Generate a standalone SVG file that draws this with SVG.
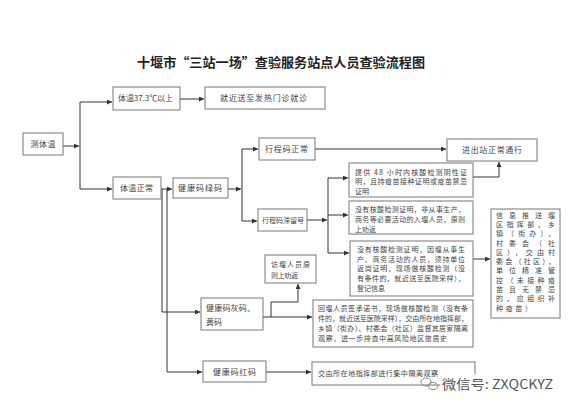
<svg xmlns="http://www.w3.org/2000/svg" width="572" height="412" viewBox="0 0 572 412">
<defs>
<marker id="ah" markerWidth="5" markerHeight="5" refX="5" refY="2.5" orient="auto" markerUnits="userSpaceOnUse"><path d="M0,0 L5,2.5 L0,5 z" fill="#333"/></marker>
<style>
.b{fill:#fff;stroke:#777;stroke-width:1}
.t{font-family:"Noto Sans CJK SC","Liberation Sans",sans-serif;font-size:8px;fill:#444}
.s{font-family:"Noto Sans CJK SC","Liberation Sans",sans-serif;font-size:7px;fill:#444}
.c{fill:none;stroke:#333;stroke-width:1}
.a{marker-end:url(#ah)}
</style>
</defs>
<rect width="572" height="412" fill="#fff"/>
<text x="281" y="67" text-anchor="middle" textLength="288" lengthAdjust="spacingAndGlyphs" style="font-family:'Noto Sans CJK SC',sans-serif;font-size:13px;font-weight:bold;fill:#222">十堰市“三站一场”查验服务站点人员查验流程图</text>

<g id="connectors">
<path class="c a" d="M63,146 H79"/>
<path class="c" d="M80,102 V189"/>
<path class="c a" d="M80,102 H112"/>
<path class="c a" d="M80,189 H112"/>
<path class="c a" d="M180,99 H204"/>
<path class="c a" d="M161,189 H172"/>
<path class="c a" d="M162,189 V312 H200"/>
<path class="c a" d="M167,189 V372 H202"/>
<path class="c a" d="M228,189 H241"/>
<path class="c" d="M242,149 V221"/>
<path class="c a" d="M242,149 H258"/>
<path class="c a" d="M242,221 H257"/>
<path class="c a" d="M315,149 H446"/>
<path class="c a" d="M307,220 H327"/>
<path class="c" d="M328,178 V253"/>
<path class="c a" d="M328,178 H348"/>
<path class="c a" d="M328,215 H348"/>
<path class="c a" d="M328,253 H349"/>
<path class="c a" d="M473,177 H499 V162"/>
<path class="c a" d="M473,259 H490"/>
<path class="c a" d="M263,317 H312"/>
<path class="c a" d="M271,317 V302 H298 V284"/>
<path class="c a" d="M266,372 H311"/>
</g>

<g id="n-measure"><rect class="b" x="23" y="133" width="40" height="22"/><text class="t" x="43" y="147" text-anchor="middle" textLength="25" lengthAdjust="spacing">测体温</text></g>
<g id="n-high"><rect class="b" x="113" y="87" width="67" height="23"/><text class="t" x="118" y="101" textLength="55" lengthAdjust="spacing">体温37.3℃以上</text></g>
<g id="n-fever"><rect class="b" x="205" y="87" width="120" height="22"/><text class="t" x="220" y="101" textLength="87" lengthAdjust="spacing">就近送至发热门诊就诊</text></g>
<g id="n-normal"><rect class="b" x="113" y="177" width="48" height="22"/><text class="t" x="120" y="191" textLength="33" lengthAdjust="spacing">体温正常</text></g>
<g id="n-green"><rect class="b" x="173" y="178" width="55" height="20"/><text class="t" x="178" y="191" textLength="44" lengthAdjust="spacing">健康码绿码</text></g>
<g id="n-trip-ok"><rect class="b" x="259" y="138" width="56" height="22"/><text class="t" x="265" y="152" textLength="43" lengthAdjust="spacing">行程码正常</text></g>
<g id="n-pass"><rect class="b" x="447" y="139" width="90" height="22"/><text class="t" x="462" y="153" textLength="60" lengthAdjust="spacing">进出站正常通行</text></g>
<g id="n-trip-star"><rect class="b" x="258" y="209" width="49" height="22"/><text class="s" x="262" y="223" textLength="42" lengthAdjust="spacing">行程码滞留号</text></g>
<g id="n-cert"><rect class="b" x="349" y="163" width="124" height="34"/>
<text class="s" x="355" y="175" textLength="112" lengthAdjust="spacing">提供 48 小时内核酸检测阴性证</text>
<text class="s" x="355" y="184" textLength="112" lengthAdjust="spacing">明，且持疫苗接种证明或疫苗禁忌</text>
<text class="s" x="355" y="194">证明</text></g>
<g id="n-nocert1"><rect class="b" x="349" y="201" width="124" height="33"/>
<text class="s" x="355" y="212" textLength="110" lengthAdjust="spacing">没有核酸检测证明，非从事生产，</text>
<text class="s" x="355" y="222" textLength="110" lengthAdjust="spacing">商务等必要活动的入堰人员，原则</text>
<text class="s" x="355" y="232">上劝返</text></g>
<g id="n-nocert2"><rect class="b" x="350" y="241" width="123" height="55"/>
<text class="s" x="357" y="252" textLength="108" lengthAdjust="spacing">没有核酸检测证明，因堰从事生</text>
<text class="s" x="357" y="262" textLength="108" lengthAdjust="spacing">产、商务活动的人员，须持单位</text>
<text class="s" x="357" y="271" textLength="108" lengthAdjust="spacing">返岗证明，现场做核酸检测（没</text>
<text class="s" x="357" y="281" textLength="108" lengthAdjust="spacing">有条件的，就近送至医院采样），</text>
<text class="s" x="357" y="291">登记信息</text></g>
<g id="n-push"><rect class="b" x="491" y="209" width="69" height="109"/>
<text class="s" x="496" y="218" textLength="59" lengthAdjust="spacing">信息推送堰</text>
<text class="s" x="496" y="227" textLength="59" lengthAdjust="spacing">区指挥部，乡</text>
<text class="s" x="496" y="236" textLength="59" lengthAdjust="spacing">镇（街办），</text>
<text class="s" x="496" y="246" textLength="59" lengthAdjust="spacing">村委会（社</text>
<text class="s" x="496" y="255" textLength="59" lengthAdjust="spacing">区），交由村</text>
<text class="s" x="496" y="264" textLength="59" lengthAdjust="spacing">委会（社区），</text>
<text class="s" x="496" y="273" textLength="59" lengthAdjust="spacing">单位精准管</text>
<text class="s" x="496" y="283" textLength="59" lengthAdjust="spacing">控（未接种疫</text>
<text class="s" x="496" y="292" textLength="59" lengthAdjust="spacing">苗且无禁忌</text>
<text class="s" x="496" y="301" textLength="59" lengthAdjust="spacing">的，应组织补</text>
<text class="s" x="496" y="311" textLength="36" lengthAdjust="spacing">种疫苗）</text></g>
<g id="n-visit"><rect class="b" x="265" y="255" width="51" height="28"/>
<text class="s" x="271" y="267" textLength="39" lengthAdjust="spacing">访堰人员原</text>
<text class="s" x="271" y="278" textLength="27" lengthAdjust="spacing">则上劝返</text></g>
<g id="n-gray"><rect class="b" x="201" y="298" width="62" height="32"/>
<text class="t" x="206" y="311" textLength="49" lengthAdjust="spacing">健康码灰码、</text>
<text class="t" x="206" y="325">黄码</text></g>
<g id="n-return"><rect class="b" x="313" y="300" width="160" height="47"/>
<text class="s" x="318" y="311" textLength="150" lengthAdjust="spacing">回堰人员签承诺书，现场做核酸检测（没有条</text>
<text class="s" x="318" y="321" textLength="150" lengthAdjust="spacing">件的，就近送至医院采样），交由所在地指挥部，</text>
<text class="s" x="318" y="331" textLength="150" lengthAdjust="spacing">乡镇（街办）、村委会（社区）监督其居家隔离</text>
<text class="s" x="318" y="341" textLength="129" lengthAdjust="spacing">观察，进一步排查中高风险地区旅居史</text></g>
<g id="n-red"><rect class="b" x="203" y="361" width="63" height="21"/><text class="t" x="213" y="375" textLength="43" lengthAdjust="spacing">健康码红码</text></g>
<g id="n-isolate"><rect class="b" x="312" y="362" width="163" height="23"/><text class="s" x="318" y="376" textLength="120" lengthAdjust="spacing">交由所在地指挥部进行集中隔离观察</text></g>

<g id="watermark">
<rect x="440" y="374" width="118" height="18" fill="#fff" opacity="0.85"/>
<ellipse cx="426" cy="382" rx="5" ry="4" fill="none" stroke="#888" stroke-width="1"/>
<ellipse cx="433" cy="386" rx="4.5" ry="3.5" fill="none" stroke="#888" stroke-width="1"/>
<text x="442" y="389" style="font-family:'Noto Sans CJK SC',sans-serif;font-size:13px;fill:#555" textLength="111" lengthAdjust="spacingAndGlyphs">微信号: ZXQCKYZ</text>
</g>
</svg>
